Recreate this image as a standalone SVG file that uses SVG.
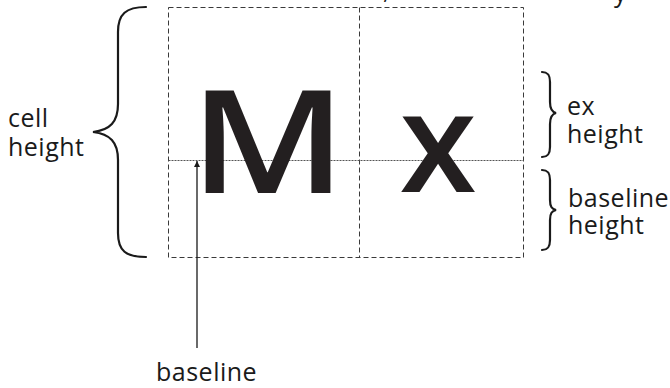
<svg xmlns="http://www.w3.org/2000/svg" width="670" height="388" viewBox="0 0 670 388">
<style>
.lbl{font-family:"Open Sans","Liberation Sans",sans-serif;font-size:25px;letter-spacing:0.5px;fill:#1a1a1a}
.big{font-family:"Open Sans","Liberation Sans",sans-serif;font-weight:600;fill:#231f20}
.grid{fill:none;stroke:#3a3a3a;stroke-width:1;stroke-dasharray:5 3}
.base{fill:none;stroke:#555;stroke-width:1;stroke-dasharray:2 1}
.brace{fill:none;stroke:#1a1a1a;stroke-width:2.2;stroke-linecap:round}
</style>
<defs>
<marker id="ah" viewBox="0 0 10 10" refX="10" refY="5" markerWidth="6" markerHeight="6" orient="auto" markerUnits="userSpaceOnUse">
<path d="M0,0 L10,5 L0,10 Z" fill="#1a1a1a"/>
</marker>
</defs>
<g id="cut-text">
<text class="lbl" x="383" y="-1">,</text>
<text class="lbl" x="614" y="2">y</text>
</g>
<g id="cells">
<rect class="grid" x="168.5" y="7.5" width="355" height="250"/>
<line class="grid" x1="359.5" y1="7.5" x2="359.5" y2="257.5"/>
<line class="base" x1="168.5" y1="160.5" x2="523.5" y2="160.5"/>
</g>
<g id="glyph-M"><text class="big" font-size="144" text-anchor="middle" transform="translate(268,193) scale(1.18,1)">M</text></g>
<g id="glyph-x"><text class="big" font-size="140" x="438" y="192" text-anchor="middle">x</text></g>
<g id="cell-height">
<path class="brace" d="M146,7 C126,7 118,14 118,32 L118,104 C118,122 110,130 93,132 C110,134 118,142 118,160 L118,233 C118,251 126,257 146,257"/>
<text class="lbl" x="8" y="127">cell</text>
<text class="lbl" x="8" y="156">height</text>
</g>
<g id="ex-height">
<path class="brace" d="M542,72 C548,72 550,75 550,82 L550,102 C550,109 552,112 556,113 C552,114 550,117 550,124 L550,147 C550,154 548,157 542,157"/>
<text class="lbl" x="567" y="115">ex</text>
<text class="lbl" x="567" y="143">height</text>
</g>
<g id="baseline-height">
<path class="brace" d="M542,170 C548,170 550,173 550,180 L550,200 C550,207 552,209 556,210 C552,211 550,213 550,220 L550,240 C550,247 548,250 542,250"/>
<text class="lbl" x="568" y="207">baseline</text>
<text class="lbl" x="568" y="234">height</text>
</g>
<g id="connectors">
<line x1="197" y1="348" x2="197" y2="161" stroke="#1a1a1a" stroke-width="1.3" marker-end="url(#ah)"/>
</g>
<g id="baseline-label">
<text class="lbl" x="156" y="381">baseline</text>
</g>
</svg>
